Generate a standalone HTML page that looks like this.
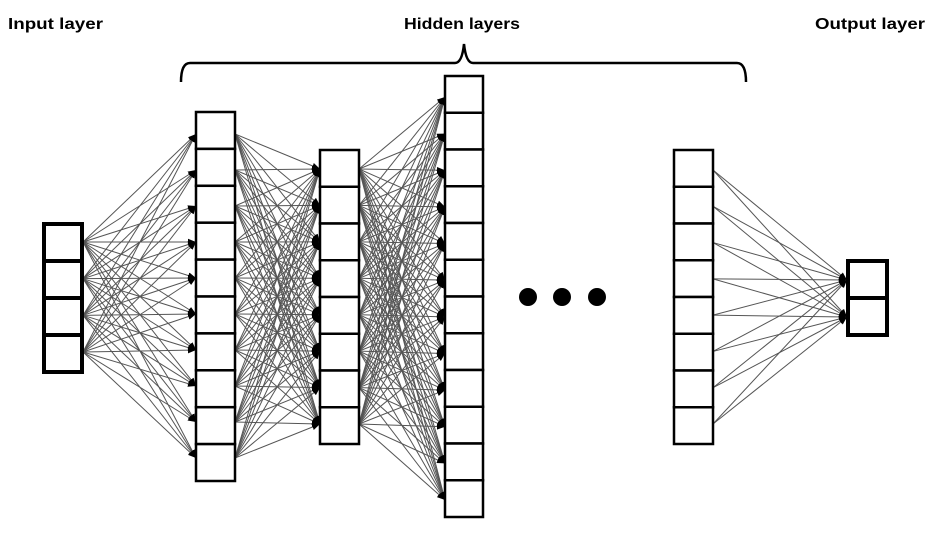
<!DOCTYPE html>
<html><head><meta charset="utf-8"><style>
html,body{margin:0;padding:0;background:#fff;}
svg{display:block;}
text{font-family:"Liberation Sans",sans-serif;font-weight:bold;font-size:16px;fill:#000;}
</style></head><body>
<svg id="s" width="950" height="533" viewBox="0 0 950 533" xmlns="http://www.w3.org/2000/svg">
<defs>
<marker id="a" viewBox="0 0 10 10" refX="10" refY="5" markerWidth="8" markerHeight="8" markerUnits="userSpaceOnUse" orient="auto">
<path d="M0,1 L10,5 L0,9 Z" fill="#000"/>
</marker>
</defs>
<text x="8" y="29" textLength="95" lengthAdjust="spacingAndGlyphs">Input layer</text>
<text x="404" y="29" textLength="116" lengthAdjust="spacingAndGlyphs">Hidden layers</text>
<text x="815" y="29" textLength="110" lengthAdjust="spacingAndGlyphs">Output layer</text>
<path d="M181,82 Q181,63 190,63 L455,63 Q462,63 464,44 Q466,63 473,63 L737,63 Q746,63 746,82" fill="none" stroke="#000" stroke-width="2.5"/>
<g id="lines" stroke="#555" stroke-width="1" fill="none"></g>
<g id="boxes" fill="#fff" stroke="#000"></g>
<circle cx="528" cy="297" r="9"/>
<circle cx="562" cy="297" r="9"/>
<circle cx="597" cy="297" r="9"/>
</svg>
<script>
var NS="http://www.w3.org/2000/svg";
function lin(a,b,n){var r=[];for(var i=0;i<n;i++)r.push(n==1?a:a+(b-a)*i/(n-1));return r;}
var L=document.getElementById('lines'),B=document.getElementById('boxes');
function conn(x1,ys,x2,yt){ys.forEach(function(y1){yt.forEach(function(y2){var l=document.createElementNS(NS,'line');l.setAttribute('x1',x1);l.setAttribute('y1',y1);l.setAttribute('x2',x2);l.setAttribute('y2',y2);l.setAttribute('marker-end','url(#a)');L.appendChild(l);});});}
function col(x,w,top,bot,n,sw){var h=(bot-top)/n;for(var i=0;i<n;i++){var r=document.createElementNS(NS,'rect');r.setAttribute('x',x);r.setAttribute('y',top+i*h);r.setAttribute('width',w);r.setAttribute('height',h);r.setAttribute('stroke-width',sw);B.appendChild(r);}}
var inY=lin(242,352,4),h1=lin(134,458,10),h2=lin(169,424,8),h3=lin(97,500,12),h4=lin(170,424,8),out=[280,317];
conn(83,inY,196,h1);
conn(235,h1,320,h2);
conn(359,h2,445,h3);
conn(713,h4,847,out);
col(44,38,224,372,4,4);
col(196,39,112,481,10,2.5);
col(320,39,150,444,8,2.5);
col(445,38,76,517,12,2.5);
col(674,39,150,444,8,2.5);
col(848,39,261,335,2,4);
</script>
</body></html>
